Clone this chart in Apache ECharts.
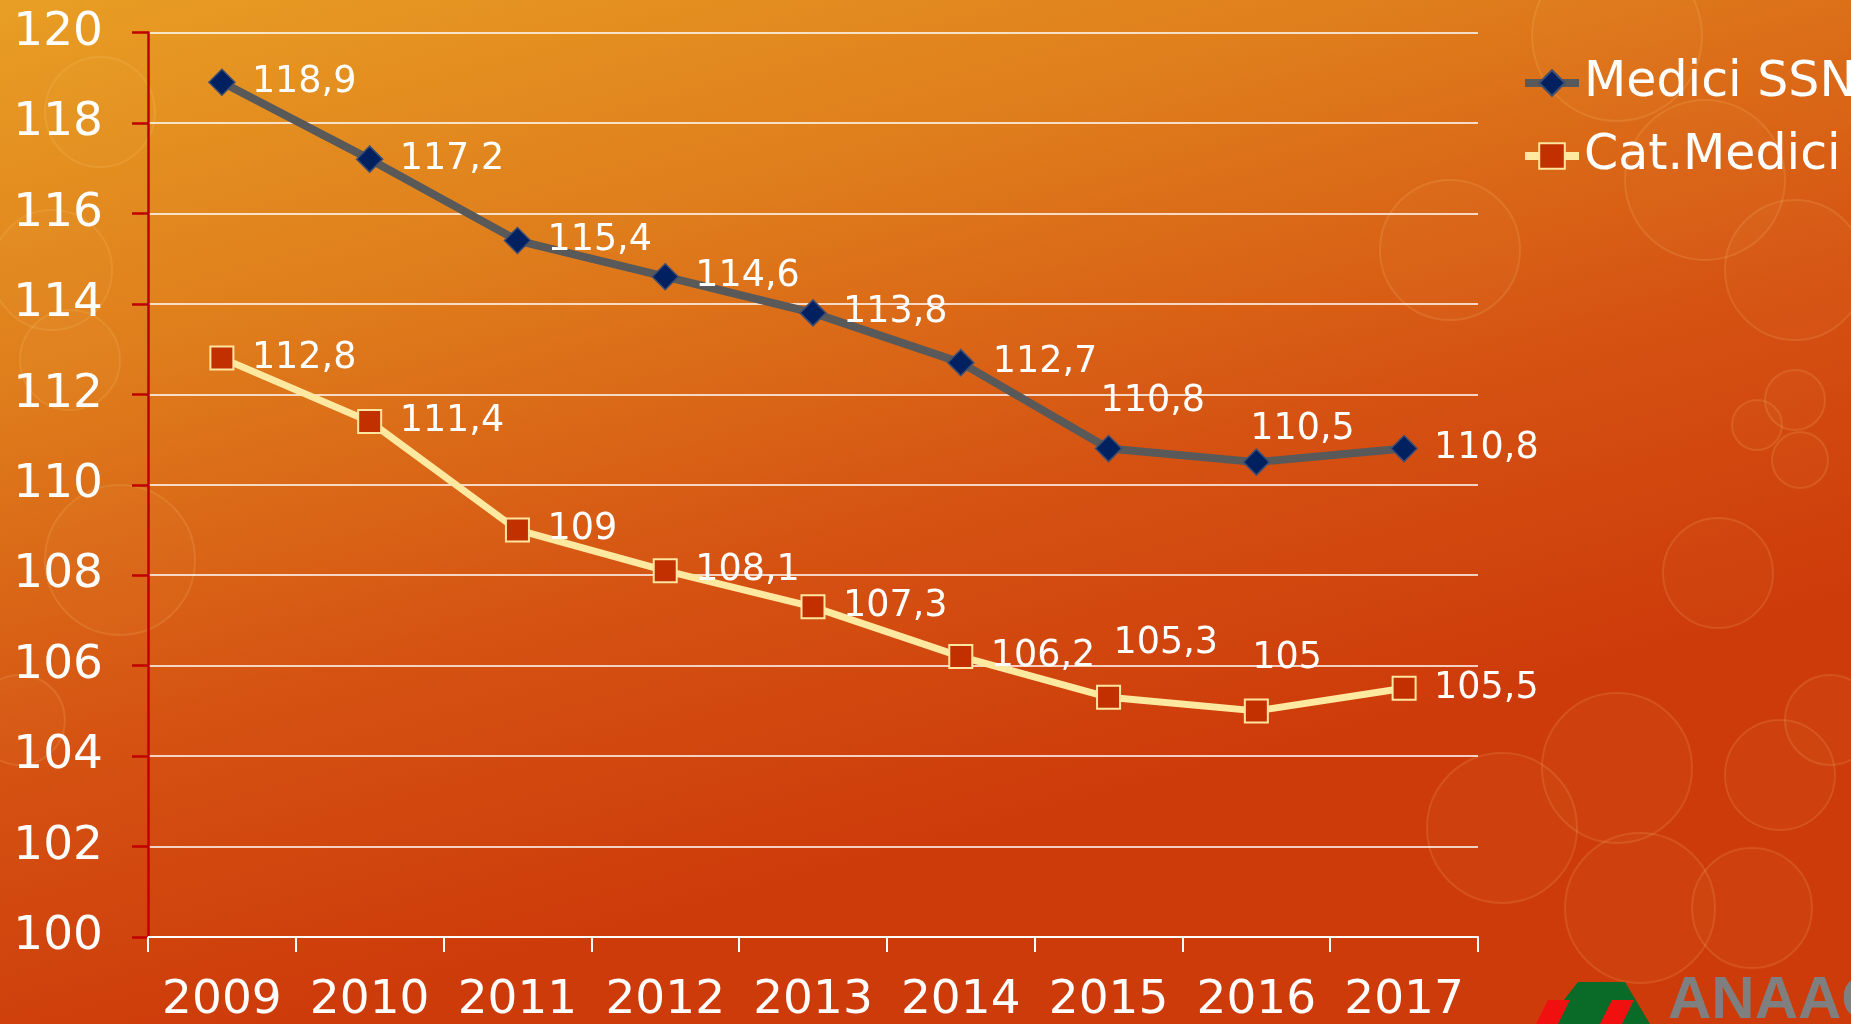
<!DOCTYPE html>
<html>
<head>
<meta charset="utf-8">
<script src="https://cdn.jsdelivr.net/npm/echarts@6/dist/echarts.min.js"></script>
<style>
html,body{margin:0;padding:0;width:1851px;height:1024px;overflow:hidden;background:#DC6A18;}
#chart{width:1851px;height:1024px;}
</style>
</head>
<body>
<div id="chart"></div>
<script>
// ---- data ----
const years = ['2009','2010','2011','2012','2013','2014','2015','2016','2017'];
const mediciSSN = [118.9, 117.2, 115.4, 114.6, 113.8, 112.7, 110.8, 110.5, 110.8];
const catMedici = [112.8, 111.4, 109, 108.1, 107.3, 106.2, 105.3, 105, 105.5];
const seriesNames = ['Medici SSN', 'Cat.Medici'];
const yMin = 100, yMax = 120, yStep = 2;

// ---- label placement (styling) ----
const ssnOffsets = [[30,0],[30,0],[30,0],[30,0],[30,0],[32,0],[-8,-47],[-6,-33],[30,0]];
const catOffsets = [[30,0],[30,0],[30,0],[30,0],[30,0],[30,0],[5,-54],[-4,-52],[30,0]];

const FONT = 'DejaVu Sans';
const fmt = v => String(v).replace('.', ',');

function withLabels(values, offsets) {
  return values.map((v, i) => ({
    value: v,
    label: { offset: offsets[i] }
  }));
}

const chart = echarts.init(document.getElementById('chart'), null, {renderer: 'canvas'});

const circles = [
  [100,112,55],[52,270,60],[20,720,45],[70,360,50],[120,560,75],
  [1617,36,85],[1705,180,80],[1795,270,70],[1795,400,30],[1757,425,25],[1800,460,28],
  [1718,573,55],[1617,768,75],[1502,828,75],[1640,908,75],[1752,908,60],[1780,775,55],[1830,720,45],
  [1450,250,70]
];

const option = {
  animation: false,
  backgroundColor: {
    type: 'linear', x: 0, y: 0, x2: 0.15, y2: 1,
    colorStops: [
      {offset: 0, color: '#E89E24'},
      {offset: 0.35, color: '#DF7E1C'},
      {offset: 0.7, color: '#D55212'},
      {offset: 1, color: '#CD3B0A'}
    ]
  },
  graphic: {
    elements: circles.map(c => ({
      type: 'circle', silent: true, z: -10,
      shape: {cx: c[0], cy: c[1], r: c[2]},
      style: {fill: 'rgba(255,210,120,0.03)', stroke: 'rgba(255,220,140,0.14)', lineWidth: 2}
    })).concat([
      {type: 'polygon', silent: true, z: 10, shape: {points: [[1578,982],[1625,982],[1650,1024],[1545,1024]]}, style: {fill: '#0A6A28'}},
      {type: 'polygon', silent: true, z: 11, shape: {points: [[1548,1000],[1570,1000],[1558,1024],[1536,1024]]}, style: {fill: '#F01010'}},
      {type: 'polygon', silent: true, z: 11, shape: {points: [[1612,1000],[1634,1000],[1622,1024],[1600,1024]]}, style: {fill: '#F01010'}},
      {type: 'text', silent: true, z: 10, left: 1668, top: 971,
       style: {text: 'ANAAO', fill: '#7F7F7F', font: 'bold 60px "Liberation Sans"'}}
    ])
  },
  grid: {left: 148, top: 32.5, right: 373, bottom: 85.7, containLabel: false},
  legend: {
    orient: 'vertical', left: 1516, top: 52,
    itemWidth: 54, itemHeight: 32, itemGap: 21,
    lineStyle: {width: 8},
    textStyle: {color: '#FFFFFF', fontFamily: FONT, fontSize: 49, lineHeight: 52},
    data: seriesNames
  },
  xAxis: {
    type: 'category', data: years, boundaryGap: true,
    axisLine: {show: true, lineStyle: {color: '#FFFFFF', width: 2}},
    axisTick: {show: true, interval: 0, length: 15, lineStyle: {color: '#FFFFFF', width: 2}},
    axisLabel: {interval: 0, color: '#FFFFFF', fontFamily: FONT, fontSize: 47, margin: 40},
    splitLine: {show: false}
  },
  yAxis: {
    type: 'value', min: yMin, max: yMax, interval: yStep,
    axisLine: {show: true, lineStyle: {color: '#C00000', width: 2.5}},
    axisTick: {show: true, length: 16, lineStyle: {color: '#C00000', width: 2.5}},
    axisLabel: {color: '#FFFFFF', fontFamily: FONT, fontSize: 47, margin: 45},
    splitLine: {show: true, lineStyle: {color: '#FFFFFF', width: 1.5}}
  },
  series: [
    {
      name: seriesNames[0], type: 'line',
      data: withLabels(mediciSSN, ssnOffsets),
      symbol: 'diamond', symbolSize: 26,
      lineStyle: {color: '#595959', width: 8},
      itemStyle: {color: '#002060', borderColor: '#3E4F73', borderWidth: 1.5},
      label: {show: true, position: 'inside', align: 'left', verticalAlign: 'middle',
              color: '#FFFFFF', fontFamily: FONT, fontSize: 36.5,
              formatter: p => fmt(p.value)},
      emphasis: {disabled: true}, z: 3
    },
    {
      name: seriesNames[1], type: 'line',
      data: withLabels(catMedici, catOffsets),
      symbol: 'rect', symbolSize: 23,
      lineStyle: {color: '#FFE8A0', width: 7},
      itemStyle: {color: '#C23000', borderColor: '#FFE6A0', borderWidth: 2},
      label: {show: true, position: 'inside', align: 'left', verticalAlign: 'middle',
              color: '#FFFFFF', fontFamily: FONT, fontSize: 36.5,
              formatter: p => fmt(p.value)},
      emphasis: {disabled: true}, z: 3
    }
  ]
};
chart.setOption(option);
</script>
</body>
</html>
